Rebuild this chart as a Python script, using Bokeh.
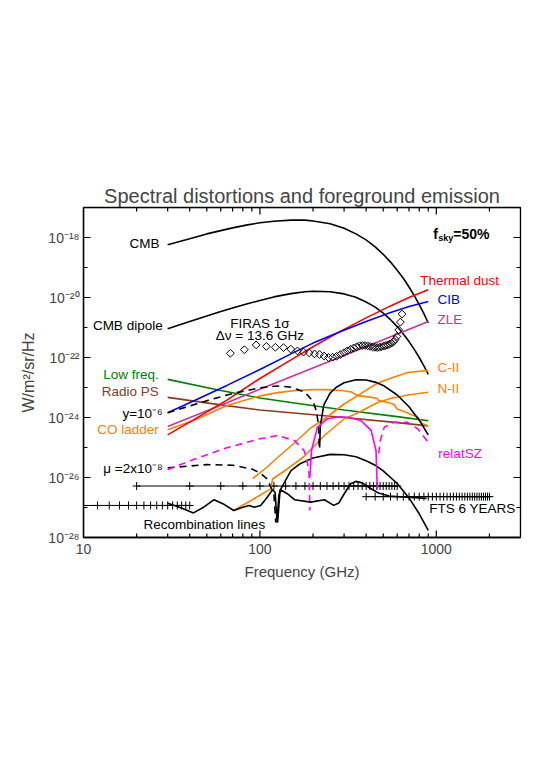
import numpy as np
from bokeh.plotting import figure
from bokeh.models import LogAxis, FixedTicker, Range1d, CustomJSTickFormatter, BoxAnnotation
from bokeh.core.properties import value
from bokeh.embed import file_html
from bokeh.resources import INLINE

# ---------------- data (log10 of W/m^2/sr/Hz) ----------------
cmb_freq = [30, 40, 50, 60, 70, 85, 100, 120, 150, 180, 200, 250, 300, 350, 400, 450,
            500, 550, 600, 650, 700, 750, 800, 850, 900]
cmb_log = [-18.24, -18.04, -17.88, -17.77, -17.68, -17.58, -17.51, -17.46, -17.42, -17.42,
           -17.45, -17.54, -17.69, -17.88, -18.08, -18.31, -18.56, -18.82, -19.09, -19.36,
           -19.65, -19.94, -20.24, -20.54, -20.85]
dipole_log = [-21.04, -20.80, -20.62, -20.47, -20.35, -20.21, -20.10, -19.98, -19.87, -19.81,
              -19.79, -19.81, -19.88, -19.99, -20.15, -20.32, -20.52, -20.74, -20.97, -21.22,
              -21.47, -21.73, -22.00, -22.28, -22.56]

firas_freq = [68.0, 81.6, 95.2, 108.8, 122.4, 136.0, 149.6, 163.2, 176.8, 190.4, 204.0, 217.6,
              231.2, 244.8, 258.4, 272.0, 285.6, 299.2, 312.8, 326.4, 340.0, 353.6, 367.2,
              380.8, 394.4, 408.0, 421.6, 435.2, 448.8, 462.4, 476.0, 489.6, 503.2, 516.8,
              530.4, 544.0, 557.6, 571.2, 584.8, 598.4, 612.0, 625.6, 639.2]
firas_log = [-21.86, -21.74, -21.58, -21.63, -21.66, -21.67, -21.72, -21.78, -21.82, -21.85,
             -21.88, -21.90, -21.95, -22.00, -21.99, -21.96, -21.90, -21.84, -21.78, -21.73,
             -21.68, -21.64, -21.61, -21.60, -21.60, -21.61, -21.63, -21.65, -21.66, -21.67,
             -21.66, -21.64, -21.62, -21.60, -21.58, -21.55, -21.52, -21.48, -21.40, -21.30,
             -21.08, -20.82, -20.55]

dust_freq = [30, 42, 65, 100, 150, 200, 287, 400, 550, 700, 900]
dust_log = [-24.58, -24.08, -23.42, -22.70, -22.08, -21.64, -21.12, -20.68, -20.28, -20.00, -19.74]

cib_freq = [30, 42, 65, 100, 150, 200, 287, 400, 550, 700, 900]
cib_log = [-23.84, -23.45, -22.93, -22.40, -21.88, -21.52, -21.13, -20.80, -20.50, -20.30, -20.13]

zle_freq = [30, 60, 100, 150, 222, 300, 500, 786, 900]
zle_log = [-24.30, -23.59, -23.06, -22.64, -22.24, -21.93, -21.41, -20.94, -20.80]

lowf_freq = [30, 60, 100, 150, 300, 600, 900]
lowf_log = [-22.73, -23.10, -23.35, -23.50, -23.75, -23.97, -24.11]

radio_freq = [30, 60, 100, 150, 300, 600, 900]
radio_log = [-23.33, -23.58, -23.75, -23.84, -24.00, -24.17, -24.28]

co_freq = [30, 42, 65, 100, 126, 160, 200, 240, 290, 330, 345, 360, 420, 460, 470, 530,
           575, 600, 690, 790, 810, 830, 900]
co_log = [-24.41, -24.10, -23.60, -23.28, -23.17, -23.10, -23.07, -23.07, -23.10, -23.15,
          -23.22, -23.27, -23.32, -23.36, -23.43, -23.50, -23.56, -23.72, -23.85, -24.00,
          -24.10, -24.20, -24.28]

cii_freq = [91, 110, 125, 150, 194, 232, 300, 358, 465, 556, 689, 900]
cii_log = [-26.04, -25.65, -25.35, -24.95, -24.35, -24.05, -23.55, -23.27, -22.85, -22.68,
           -22.50, -22.43]

nii_freq = [71, 90, 115, 118, 140, 178, 232, 300, 358, 465, 556, 689, 900]
nii_log = [-27.10, -26.75, -26.38, -26.05, -25.75, -25.30, -24.60, -24.05, -23.85, -23.50,
           -23.36, -23.25, -23.16]

ydist_neg_freq = [30, 50, 70, 100, 120, 130, 150, 180, 200, 210, 215, 217]
ydist_neg_log = [-23.84, -23.44, -23.20, -23.01, -22.96, -22.95, -22.99, -23.16, -23.46,
                 -23.82, -24.31, -25.00]
ydist_pos_freq = [218, 220, 230, 250, 270, 300, 350, 400, 450, 500, 600, 700, 800, 900]
ydist_pos_log = [-25.00, -24.29, -23.59, -23.19, -23.00, -22.84, -22.74, -22.75, -22.82,
                 -22.93, -23.25, -23.64, -24.09, -24.58]

mu_neg_freq = [30, 50, 70, 90, 100, 110, 120, 123]
mu_neg_log = [-25.68, -25.57, -25.59, -25.72, -25.84, -26.05, -26.55, -27.50]
mu_pos_freq = [126, 130, 150, 170, 200, 250, 300, 350, 400, 450, 500, 600, 700, 800, 900]
mu_pos_log = [-27.50, -26.43, -25.77, -25.53, -25.35, -25.23, -25.24, -25.31, -25.44, -25.59,
              -25.78, -26.20, -26.68, -27.21, -27.76]

rsz_neg1_freq = [30, 42, 65, 100, 126, 157, 178, 186, 190, 192]
rsz_neg1_log = [-25.74, -25.40, -25.01, -24.71, -24.60, -24.77, -25.10, -25.50, -25.90, -27.10]
rsz_pos_freq = [192, 196, 212, 242, 280, 315, 373, 427, 455, 463]
rsz_pos_log = [-26.00, -25.10, -24.32, -24.04, -23.98, -23.99, -24.10, -24.43, -25.10, -26.38]
rsz_neg2_freq = [472, 480, 507, 578, 688, 786, 900]
rsz_neg2_log = [-25.20, -24.80, -24.32, -24.16, -24.16, -24.38, -24.83]

recomb_freq = [30, 35, 42, 48, 55, 62, 71, 80, 87, 93, 101, 110, 118, 122, 125, 128, 131,
               143, 157, 194, 232, 262, 280, 300, 327, 350, 380, 420, 470, 540, 650, 800, 880]
recomb_log = [-26.86, -26.99, -27.18, -26.99, -26.74, -26.88, -27.10, -26.99, -26.93, -26.99,
              -26.93, -26.66, -26.41, -26.50, -27.50, -26.60, -26.41, -26.54, -26.74, -26.82,
              -26.74, -26.93, -26.85, -26.55, -26.21, -26.13, -26.18, -26.35, -26.52, -26.62,
              -26.65, -26.68, -26.70]

fts_mid_freq = [20, 40, 60, 80, 100, 120, 140, 160, 180, 200, 220, 240, 260, 280, 300, 320,
                340, 360, 380, 400, 420, 440, 460, 480, 500, 520, 540, 560, 580, 600]
fts_mid_level = 5.2e-27
fts_low_freq = [10, 12, 14, 16, 18, 20, 22, 24, 26, 28, 30, 32, 34, 36, 38, 40]
fts_low_level = 1.17e-27
fts_high_freq = [400, 450, 500, 550, 600, 650, 700, 750, 800, 850, 900, 950, 1000, 1050,
                 1100, 1150, 1200, 1250, 1300, 1350, 1400, 1450, 1500, 1550, 1600, 1650,
                 1700, 1750, 1800, 1850, 1900, 1950, 2000]
fts_high_level = 2.3e-27

x_ticks = [10, 100, 1000]
x_tick_labels = ["10", "100", "1000"]
x_minor = [20, 30, 40, 50, 60, 70, 80, 90, 200, 300, 400, 500, 600, 700, 800, 900, 2000, 3000]
y_ticks = [1e-28, 1e-26, 1e-24, 1e-22, 1e-20, 1e-18]
y_tick_labels = ["10⁻²⁸", "10⁻²⁶", "10⁻²⁴", "10⁻²²", "10⁻²⁰", "10⁻¹⁸"]
y_minor = [1e-27, 1e-25, 1e-23, 1e-21, 1e-19, 1e-17]

X_LO, X_HI = 10, 3000
Y_LO, Y_HI = 1e-28, 1e-17
FRAME_W, FRAME_H = 437, 330

# ---------------- styling ----------------
FONT = "Liberation Sans"
ORANGE = "#ff8000"
ZLE_C = "#cc3399"
MAG = "#ff00ff"
GREEN = "#008000"
BROWN = "#8b3a1e"

LABEL_JS = """
let best = -1, bd = 1e9;
for (let i = 0; i < t.length; i++) {
  const d = Math.abs(Math.log10(t[i]) - Math.log10(tick));
  if (d < bd) { bd = d; best = i; }
}
return (best >= 0 && bd < 1e-6) ? l[best] : "";
"""


def lin(logs):
    return [10.0 ** v for v in logs]


p = figure(x_axis_type="log", y_axis_type="log",
           x_range=Range1d(X_LO, X_HI), y_range=Range1d(Y_LO, Y_HI),
           frame_width=FRAME_W, frame_height=FRAME_H,
           min_border_left=83, min_border_right=17, min_border_top=207, min_border_bottom=71,
           output_backend="svg", toolbar_location=None,
           title="Spectral distortions and foreground emission")
p.title.align = "center"
p.title.text_font = FONT
p.title.text_font_size = "20px"
p.title.text_font_style = "normal"
p.title.standoff = 2
p.grid.visible = False
p.outline_line_color = "black"
p.outline_line_width = 1.3
p.background_fill_color = None
p.border_fill_color = "white"

bottom = p.below[0]
left = p.left[0]

bottom.ticker = FixedTicker(ticks=x_ticks, minor_ticks=x_minor)
bottom.formatter = CustomJSTickFormatter(args=dict(t=x_ticks, l=x_tick_labels), code=LABEL_JS)
bottom.axis_label = "Frequency (GHz)"
left.ticker = FixedTicker(ticks=y_ticks, minor_ticks=y_minor)
left.formatter = CustomJSTickFormatter(args=dict(t=y_ticks, l=y_tick_labels), code=LABEL_JS)
left.axis_label = "W/m²/sr/Hz"

for ax in [bottom, left]:
    ax.major_tick_in = 0
    ax.major_tick_out = 0
    ax.minor_tick_in = 0
    ax.minor_tick_out = 0
    ax.axis_line_color = "black"
    ax.axis_line_width = 1.3
    ax.major_label_text_font = FONT
    ax.major_label_text_font_size = "14px"
    ax.axis_label_text_font = FONT
    ax.axis_label_text_font_size = "15px"
    ax.axis_label_text_font_style = "normal"
bottom.major_label_standoff = 6
bottom.axis_label_standoff = 6
left.major_label_standoff = 4
left.axis_label_standoff = 8
left.axis_label_text_font_size = "16px"

p.add_layout(BoxAnnotation(fill_alpha=0, fill_color=None, line_color="black",
                           line_width=1.3, level="overlay"))

# inward tick marks on all four sides (lengths in pixels, converted to log units)
dx = (np.log10(X_HI) - np.log10(X_LO)) / FRAME_W
dy = (np.log10(Y_HI) - np.log10(Y_LO)) / FRAME_H
for vals, ln in [(x_ticks, 7), (x_minor, 4)]:
    vals = [v for v in vals if X_LO < v < X_HI]
    n = len(vals)
    p.segment(x0=vals, y0=[Y_LO] * n, x1=vals, y1=[Y_LO * 10 ** (ln * dy)] * n,
              line_color="black", line_width=1.2)
    p.segment(x0=vals, y0=[Y_HI] * n, x1=vals, y1=[Y_HI / 10 ** (ln * dy)] * n,
              line_color="black", line_width=1.2)
for vals, ln in [(y_ticks, 7), (y_minor, 4)]:
    vals = [v for v in vals if Y_LO < v < Y_HI]
    n = len(vals)
    p.segment(x0=[X_LO] * n, y0=vals, x1=[X_LO * 10 ** (ln * dx)] * n, y1=vals,
              line_color="black", line_width=1.2)
    p.segment(x0=[X_HI] * n, y0=vals, x1=[X_HI / 10 ** (ln * dx)] * n, y1=vals,
              line_color="black", line_width=1.2)

LW = 1.6
# sensitivities
for fr, lev in [(fts_mid_freq, fts_mid_level), (fts_low_freq, fts_low_level),
                (fts_high_freq, fts_high_level)]:
    p.line(fr, [lev] * len(fr), line_color="black", line_width=1)
    p.scatter(fr, [lev] * len(fr), marker="cross", size=8, line_color="black", line_width=1)

p.line(cmb_freq, lin(cmb_log), line_color="black", line_width=LW)
p.line(cmb_freq, lin(dipole_log), line_color="black", line_width=LW)
p.line(lowf_freq, lin(lowf_log), line_color=GREEN, line_width=LW)
p.line(radio_freq, lin(radio_log), line_color=BROWN, line_width=LW)
p.line(co_freq, lin(co_log), line_color=ORANGE, line_width=LW)
p.line(cii_freq, lin(cii_log), line_color=ORANGE, line_width=LW)
p.line(nii_freq, lin(nii_log), line_color=ORANGE, line_width=LW)
p.line(zle_freq, lin(zle_log), line_color=ZLE_C, line_width=LW)
p.line(dust_freq, lin(dust_log), line_color="red", line_width=LW)
p.line(cib_freq, lin(cib_log), line_color="blue", line_width=LW)

p.line(ydist_neg_freq, lin(ydist_neg_log), line_color="black", line_width=LW, line_dash="7 5")
p.line(ydist_pos_freq, lin(ydist_pos_log), line_color="black", line_width=LW)
p.line(mu_neg_freq, lin(mu_neg_log), line_color="black", line_width=LW, line_dash="7 5")
p.line(mu_pos_freq, lin(mu_pos_log), line_color="black", line_width=LW)
p.line(rsz_neg1_freq, lin(rsz_neg1_log), line_color=MAG, line_width=LW, line_dash="7 5")
p.line(rsz_pos_freq, lin(rsz_pos_log), line_color=MAG, line_width=LW)
p.line(rsz_neg2_freq, lin(rsz_neg2_log), line_color=MAG, line_width=LW, line_dash="7 5")
p.line(recomb_freq, lin(recomb_log), line_color="black", line_width=LW)

p.scatter(firas_freq, lin(firas_log), marker="square", angle=np.pi / 4, size=5.5,
          fill_color=None, line_color="black", line_width=1)

# ---------------- labels ----------------
def label(x, ly, txt, color="black", align="left", size="13.5px", style="normal",
          xo=0, yo=0):
    p.text(x=[x], y=[10.0 ** ly], text=[txt], text_color=color, text_align=align,
           text_baseline="middle", text_font=value(FONT), text_font_size=value(size),
           text_font_style=style, x_offset=xo, y_offset=yo)

label(27.0, -18.20, "CMB", align="right")
label(28.1, -20.93, "CMB dipole", align="right")
label(100, -20.87, "FIRAS 1σ", align="center")
label(100, -21.27, "Δν = 13.6 GHz", align="center")
label(26.7, -22.57, "Low freq.", GREEN, align="right")
label(26.7, -23.13, "Radio PS", BROWN, align="right")
label(28.1, -23.85, "y=10⁻⁶", align="right")
label(26.7, -24.40, "CO ladder", ORANGE, align="right")
label(28.1, -25.70, "μ =2x10⁻⁸", align="right")
label(21.9, -27.57, "Recombination lines")
label(912, -27.03, "FTS 6 YEARS")
label(811, -19.43, "Thermal dust", "red")
label(1014, -20.07, "CIB", "blue")
label(1014, -20.73, "ZLE", ZLE_C)
label(1014, -22.33, "C-II", ORANGE)
label(1014, -23.03, "N-II", ORANGE)
label(1027, -25.20, "relatSZ", MAG)
label(962, -17.87, "f", size="14px", style="bold")
label(962, -17.87, "sky", size="9px", style="bold", xo=5, yo=4)
label(962, -17.87, "=50%", size="14px", style="bold", xo=20)

open("out.html", "w").write(file_html(p, INLINE))
